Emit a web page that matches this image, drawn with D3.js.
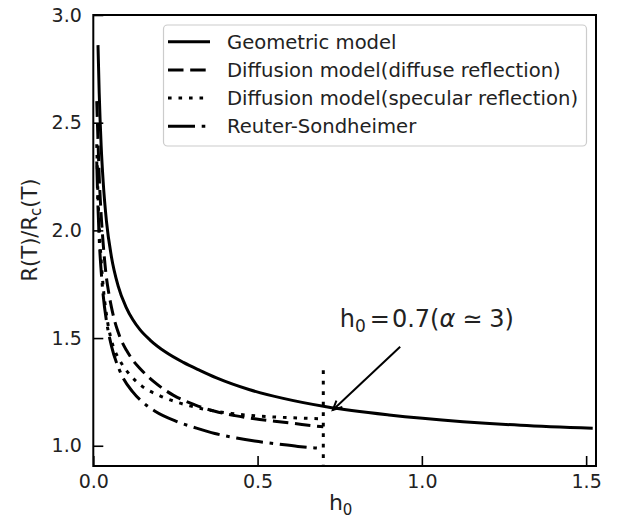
<!DOCTYPE html>
<html>
<head>
<meta charset="utf-8">
<script src="https://cdn.jsdelivr.net/npm/d3@7"></script>
<style>
  html, body { margin: 0; padding: 0; background: #fff; }
  svg { display: block; font-family: "DejaVu Sans", sans-serif; }
</style>
</head>
<body>
<svg id="chart" width="621" height="519"></svg>
<script>
// Normalised resistance R(T)/Rc(T) against reduced thickness h0, one array per model.
const geometric = [
  [0.0143, 2.86], [0.018, 2.637], [0.024, 2.39], [0.030, 2.227], [0.040, 2.043],
  [0.055, 1.879], [0.075, 1.745], [0.100, 1.643], [0.120, 1.586], [0.142, 1.539],
  [0.172, 1.492], [0.220, 1.435], [0.274, 1.387], [0.324, 1.350], [0.375, 1.315],
  [0.476, 1.260], [0.578, 1.220], [0.709, 1.181], [0.900, 1.143], [1.125, 1.112],
  [1.300, 1.095], [1.520, 1.081]
];
const diffuse = [
  [0.0105, 2.60], [0.014, 2.43], [0.018, 2.25], [0.024, 2.07], [0.030, 1.94],
  [0.040, 1.78], [0.047, 1.71], [0.055, 1.645], [0.065, 1.58], [0.075, 1.53],
  [0.088, 1.48], [0.101, 1.443], [0.120, 1.398], [0.142, 1.359], [0.188, 1.293],
  [0.243, 1.235], [0.309, 1.190], [0.370, 1.160], [0.431, 1.140], [0.491, 1.125],
  [0.552, 1.114], [0.613, 1.103], [0.674, 1.092], [0.700, 1.088]
];
const specular = [
  [0.0105, 2.40], [0.014, 2.18], [0.018, 2.02], [0.024, 1.86], [0.030, 1.74],
  [0.040, 1.61], [0.055, 1.49], [0.066, 1.44], [0.081, 1.395], [0.117, 1.320],
  [0.147, 1.278], [0.203, 1.232], [0.253, 1.203], [0.294, 1.185], [0.355, 1.165],
  [0.420, 1.150], [0.476, 1.141], [0.588, 1.131], [0.700, 1.125]
];
const reuterSondheimer = [
  [0.0105, 2.32], [0.014, 2.12], [0.018, 1.96], [0.024, 1.81], [0.030, 1.70],
  [0.040, 1.58], [0.055, 1.465], [0.080, 1.35], [0.120, 1.25], [0.150, 1.203],
  [0.188, 1.160], [0.253, 1.113], [0.314, 1.082], [0.370, 1.057], [0.436, 1.036],
  [0.491, 1.022], [0.567, 1.007], [0.623, 0.997], [0.674, 0.990], [0.700, 0.987]
];

const xTicks = [0.0, 0.5, 1.0, 1.5];
const yTicks = [1.0, 1.5, 2.0, 2.5, 3.0];
const legendLabels = [
  "Geometric model",
  "Diffusion model(diffuse reflection)",
  "Diffusion model(specular reflection)",
  "Reuter-Sondheimer"
];
// marker at h0 = 0.7 and its annotation (data coordinates)
const markerH = 0.7;
const markerSpan = [0.9, 1.35];
const arrowTip = [0.729, 1.166];
const arrowTail = [0.934, 1.46];
const noteAt = [0.75, 1.551];

const svg = d3.select("#chart");
const plot = { left: 93.3, right: 596, top: 15, bottom: 466 };

const x = d3.scaleLinear().domain([0, 1.53]).range([plot.left, plot.right]);
const y = d3.scaleLinear().domain([0.906, 3.0]).range([plot.bottom, plot.top]);

const defs = svg.append("defs");
defs.append("clipPath").attr("id", "clip")
  .append("rect")
  .attr("x", plot.left).attr("y", plot.top)
  .attr("width", plot.right - plot.left).attr("height", plot.bottom - plot.top);

const styles = [
  { data: geometric, dash: null },
  { data: diffuse, dash: "15.5,6.7" },
  { data: specular, dash: "3.6,6.9" },
  { data: reuterSondheimer, dash: "27,6.7,3.6,6.7" }
];

const line = d3.line()
  .x(d => x(d[0]))
  .y(d => y(d[1]))
  .curve(d3.curveMonotoneX);

const g = svg.append("g").attr("clip-path", "url(#clip)");

styles.forEach(s => {
  g.append("path")
    .datum(s.data)
    .attr("d", line)
    .attr("fill", "none")
    .attr("stroke", "#000")
    .attr("stroke-width", 3)
    .attr("stroke-dasharray", s.dash);
});

// vertical dotted marker at h0 = 0.7
g.append("line")
  .attr("x1", x(markerH)).attr("x2", x(markerH))
  .attr("y1", y(markerSpan[1])).attr("y2", y(markerSpan[0]))
  .attr("stroke", "#000")
  .attr("stroke-width", 3)
  .attr("stroke-dasharray", "3.6,6.9");

// axes with inward ticks
const xAxis = d3.axisBottom(x).tickValues(xTicks).tickFormat(d3.format(".1f"))
  .tickSizeInner(-10).tickSizeOuter(0).tickPadding(9);
const yAxis = d3.axisLeft(y).tickValues(yTicks).tickFormat(d3.format(".1f"))
  .tickSizeInner(-10).tickSizeOuter(0).tickPadding(11.5);

const gx = svg.append("g").attr("transform", `translate(0,${plot.bottom})`).call(xAxis);
const gy = svg.append("g").attr("transform", `translate(${plot.left},0)`).call(yAxis);
[gx, gy].forEach(a => {
  a.select(".domain").remove();
  a.selectAll(".tick line").attr("stroke", "#000").attr("stroke-width", 1.6);
  a.selectAll(".tick text").attr("fill", "#222")
    .style("font-family", "DejaVu Sans").style("font-size", "19px");
});

// frame
svg.append("rect")
  .attr("x", plot.left).attr("y", plot.top)
  .attr("width", plot.right - plot.left).attr("height", plot.bottom - plot.top)
  .attr("fill", "none").attr("stroke", "#000").attr("stroke-width", 2);

// axis labels
const xl = svg.append("text")
  .attr("x", (plot.left + plot.right) / 2 - 4).attr("y", 510)
  .attr("text-anchor", "middle").attr("fill", "#222")
  .style("font-size", "22px");
xl.append("tspan").text("h");
xl.append("tspan").attr("dy", 5).style("font-size", "15px").text("0");

const yl = svg.append("text")
  .attr("transform", "translate(37,230) rotate(-90)")
  .attr("text-anchor", "middle").attr("fill", "#222")
  .style("font-size", "21px");
yl.append("tspan").text("R(T)/R");
yl.append("tspan").attr("dy", 4).style("font-size", "15px").text("c");
yl.append("tspan").attr("dy", -4).text("(T)");

// annotation arrow
const ax1 = x(arrowTail[0]), ay1 = y(arrowTail[1]);
const ax2 = x(arrowTip[0]), ay2 = y(arrowTip[1]);
svg.append("line")
  .attr("x1", ax1).attr("y1", ay1).attr("x2", ax2).attr("y2", ay2)
  .attr("stroke", "#000").attr("stroke-width", 2);
const ang = Math.atan2(ay2 - ay1, ax2 - ax1);
const headLen = 10, headAng = Math.PI / 7;
svg.append("path")
  .attr("d", `M${ax2 - headLen * Math.cos(ang - headAng)},${ay2 - headLen * Math.sin(ang - headAng)}
              L${ax2},${ay2}
              L${ax2 - headLen * Math.cos(ang + headAng)},${ay2 - headLen * Math.sin(ang + headAng)}`)
  .attr("fill", "none").attr("stroke", "#000").attr("stroke-width", 2);

const note = svg.append("text")
  .attr("x", x(noteAt[0])).attr("y", y(noteAt[1]))
  .attr("fill", "#222").style("font-size", "24px");
note.append("tspan").text("h");
note.append("tspan").attr("dy", 5).style("font-size", "17px").text("0");
note.append("tspan").attr("dy", -5).attr("dx", 4).text("=");
note.append("tspan").attr("dx", 2).text("0.7(");
note.append("tspan").style("font-style", "italic").text("α");
note.append("tspan").attr("dx", 7).text("≃");
note.append("tspan").attr("dx", 7).text("3)");

// legend
const lg = svg.append("g");
lg.append("rect")
  .attr("x", 163.5).attr("y", 25).attr("width", 423).attr("height", 121)
  .attr("rx", 4).attr("fill", "#fff").attr("fill-opacity", 0.8)
  .attr("stroke", "#ccc").attr("stroke-width", 1.2);
legendLabels.forEach((lab, i) => {
  const cy = 41.7 + i * 28.2;
  lg.append("line")
    .attr("x1", 168).attr("x2", 210).attr("y1", cy).attr("y2", cy)
    .attr("stroke", "#000").attr("stroke-width", 3)
    .attr("stroke-dasharray", styles[i].dash);
  lg.append("text")
    .attr("x", 227).attr("y", cy + 7)
    .attr("fill", "#222").style("font-size", "19.6px")
    .text(lab);
});
</script>
</body>
</html>
